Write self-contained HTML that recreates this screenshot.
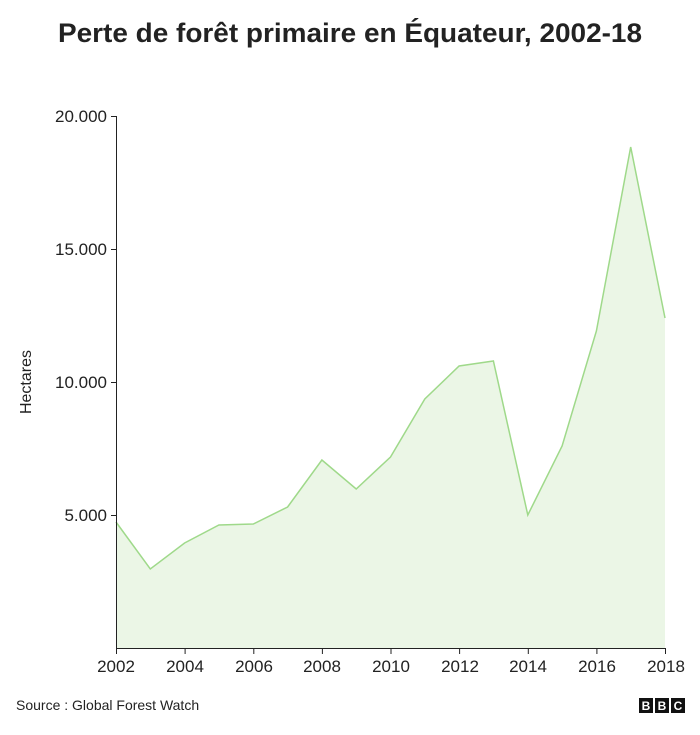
<!DOCTYPE html>
<html><head><meta charset="utf-8"><style>
body{margin:0;background:#fff;font-family:"Liberation Sans",Arial,sans-serif;}
</style></head><body>
<svg width="700" height="730" xmlns="http://www.w3.org/2000/svg" font-family="Liberation Sans, Arial, sans-serif">
<text x="350" y="42" text-anchor="middle" font-size="27" font-weight="bold" fill="#222" textLength="584" lengthAdjust="spacingAndGlyphs">Perte de forêt primaire en Équateur, 2002-18</text>
<polygon fill="#ebf6e6" points="116,648 116,522 150.3,569 184.6,543 218.9,525 253.3,524 287.6,507 321.9,460 356.2,489 390.5,457 424.8,399 459.1,366 493.4,361 527.8,515 562.1,446 596.4,331 630.7,147 665,318 665,648"/>
<polyline fill="none" stroke="#9fd98a" stroke-width="1.5" points="116,522 150.3,569 184.6,543 218.9,525 253.3,524 287.6,507 321.9,460 356.2,489 390.5,457 424.8,399 459.1,366 493.4,361 527.8,515 562.1,446 596.4,331 630.7,147 665,318"/>
<g stroke="#222" stroke-width="1" fill="none">
<line x1="116.5" y1="116" x2="116.5" y2="648"/>
<line x1="116" y1="648.5" x2="665.5" y2="648.5"/>
<line x1="111" y1="116.5" x2="116" y2="116.5"/>
<line x1="111" y1="249.5" x2="116" y2="249.5"/>
<line x1="111" y1="382.5" x2="116" y2="382.5"/>
<line x1="111" y1="515.5" x2="116" y2="515.5"/>
<line x1="116.5" y1="648" x2="116.5" y2="654"/>
<line x1="185.1" y1="648" x2="185.1" y2="654"/>
<line x1="253.8" y1="648" x2="253.8" y2="654"/>
<line x1="322.4" y1="648" x2="322.4" y2="654"/>
<line x1="391" y1="648" x2="391" y2="654"/>
<line x1="459.6" y1="648" x2="459.6" y2="654"/>
<line x1="528.3" y1="648" x2="528.3" y2="654"/>
<line x1="596.9" y1="648" x2="596.9" y2="654"/>
<line x1="665.5" y1="648" x2="665.5" y2="654"/>
</g>
<g font-size="17" fill="#222" text-anchor="end">
<text x="107" y="122">20.000</text>
<text x="107" y="255">15.000</text>
<text x="107" y="388">10.000</text>
<text x="107" y="521">5.000</text>
</g>
<g font-size="17" fill="#222" text-anchor="middle">
<text x="116" y="672">2002</text>
<text x="185" y="672">2004</text>
<text x="254" y="672">2006</text>
<text x="322" y="672">2008</text>
<text x="391" y="672">2010</text>
<text x="460" y="672">2012</text>
<text x="528" y="672">2014</text>
<text x="597" y="672">2016</text>
<text x="666" y="672">2018</text>
</g>
<text transform="translate(31,382) rotate(-90)" text-anchor="middle" font-size="16" fill="#222">Hectares</text>
<text x="16" y="710" font-size="14" fill="#222">Source : Global Forest Watch</text>
<g>
<rect x="639" y="698" width="14" height="15" fill="#111"/>
<rect x="655" y="698" width="14" height="15" fill="#111"/>
<rect x="671" y="698" width="14" height="15" fill="#111"/>
<text x="646" y="710" text-anchor="middle" font-size="12" font-weight="bold" fill="#fff">B</text>
<text x="662" y="710" text-anchor="middle" font-size="12" font-weight="bold" fill="#fff">B</text>
<text x="678" y="710" text-anchor="middle" font-size="12" font-weight="bold" fill="#fff">C</text>
</g>
</svg>
</body></html>
